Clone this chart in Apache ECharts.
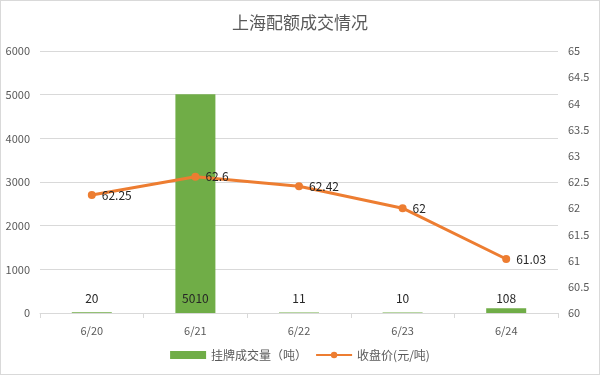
<!DOCTYPE html>
<html><head><meta charset="utf-8">
<script src="https://cdn.jsdelivr.net/npm/echarts@6/dist/echarts.min.js"></script>
<style>html,body{margin:0;padding:0;background:#fff}#c{width:598px;height:373px;border:1px solid #d9d9d9}</style>
</head><body><div id="c"></div>
<script>
const categories = ['6/20','6/21','6/22','6/23','6/24'];
const volume = [20, 5010, 11, 10, 108];
const price = [62.25, 62.6, 62.42, 62, 61.03];
const leftTicks = [0, 6000, 1000];
const rightTicks = [60, 65, 0.5];
const font = '"Noto Sans CJK SC", "Noto Sans", sans-serif';
const chart = echarts.init(document.getElementById('c'));
chart.setOption({
  animation: false,
  textStyle: {fontFamily: font},
  title: {text: '上海配额成交情况', left: 'center', top: 8,
    textStyle: {fontSize: 17, fontWeight: 'normal', color: '#595959', fontFamily: font}},
  legend: {bottom: 8, itemGap: 8, itemWidth: 36, itemHeight: 8,
    textStyle: {color: '#595959', fontSize: 12, fontFamily: font},
    data: [{name: '挂牌成交量（吨）', icon: 'rect'}, {name: '收盘价(元/吨)'}]},
  grid: {left: 39, right: 41, top: 50, bottom: 61},
  xAxis: {type: 'category', data: categories,
    axisLine: {lineStyle: {color: '#d9d9d9'}},
    axisTick: {show: true, alignWithLabel: false, lineStyle: {color: '#d9d9d9'}},
    axisLabel: {color: '#595959', fontSize: 11, margin: 12}},
  yAxis: [
    {type: 'value', min: leftTicks[0], max: leftTicks[1], interval: leftTicks[2],
      axisLine: {show: false}, axisTick: {show: false},
      axisLabel: {color: '#595959', fontSize: 11, margin: 10, formatter: v => String(v)},
      splitLine: {lineStyle: {color: '#d9d9d9'}}},
    {type: 'value', min: rightTicks[0], max: rightTicks[1], interval: rightTicks[2],
      axisLine: {show: false}, axisTick: {show: false},
      axisLabel: {color: '#595959', fontSize: 11, margin: 10, formatter: v => String(v)},
      splitLine: {show: false}}
  ],
  series: [
    {name: '挂牌成交量（吨）', type: 'bar', data: volume, barWidth: 40,
      itemStyle: {color: '#70AD47'},
      label: {show: true, position: 'insideBottom', distance: 9, color: '#262626', fontSize: 12, fontFamily: font}},
    {name: '收盘价(元/吨)', type: 'line', yAxisIndex: 1, data: price,
      symbol: 'circle', symbolSize: 8,
      lineStyle: {color: '#ED7D31', width: 3}, itemStyle: {color: '#ED7D31'},
      label: {show: true, position: 'right', distance: 6, color: '#262626', fontSize: 12, fontFamily: font}}
  ]
});
</script></body></html>
